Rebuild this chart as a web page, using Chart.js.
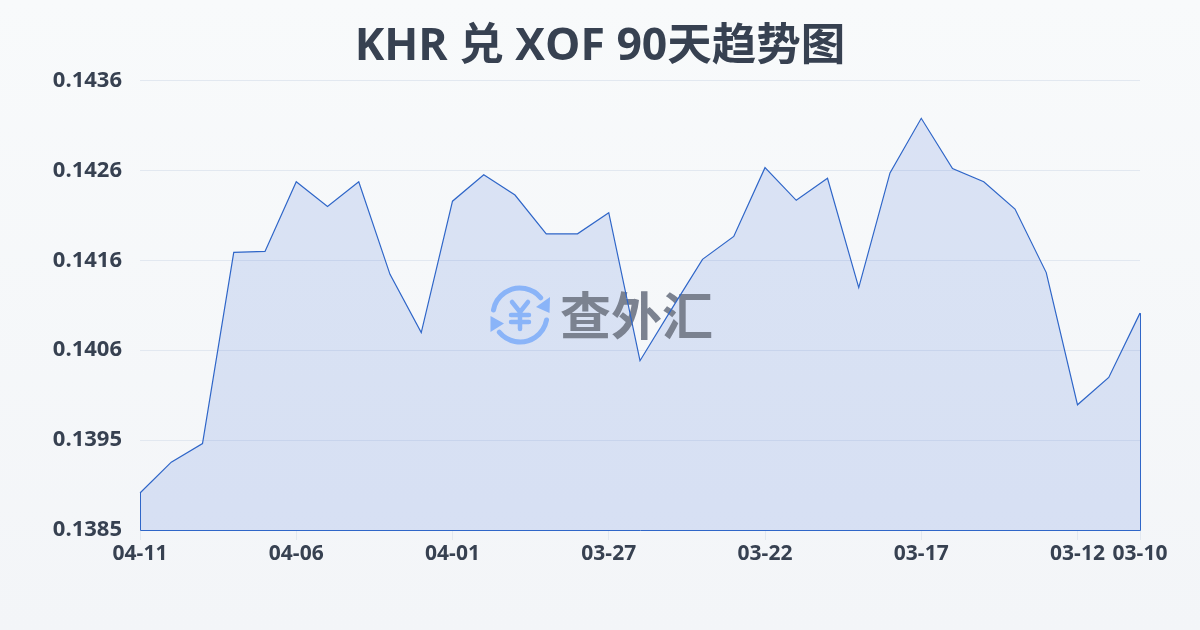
<!DOCTYPE html>
<html>
<head>
<meta charset="utf-8">
<style>
html,body{margin:0;padding:0;width:1200px;height:630px;overflow:hidden;background:linear-gradient(180deg,#f8fafb 0%,#f3f5f8 100%);}
#wrap{position:absolute;left:0;top:0;width:1200px;height:630px;}
</style>
<script src="https://cdn.jsdelivr.net/npm/chart.js@4/dist/chart.umd.js"></script>
</head>
<body>
<div id="wrap"><canvas id="c" width="1200" height="630"></canvas></div>
<script>
const chartTitle = 'KHR 兑 XOF 90天趋势图';
const watermarkText = '查外汇';
const dates = ['04-11','04-10','04-09','04-08','04-07','04-06','04-05','04-04','04-03','04-02','04-01',
  '03-31','03-30','03-29','03-28','03-27','03-26','03-25','03-24','03-23','03-22','03-21',
  '03-20','03-19','03-18','03-17','03-16','03-15','03-14','03-13','03-12','03-11','03-10'];
const rates = [0.13894,0.13929,0.13950,0.14167,0.14168,0.14247,0.14219,0.14247,0.14142,0.14076,0.14225,
  0.14255,0.14232,0.14188,0.14188,0.14212,0.14044,0.14102,0.14159,0.14185,0.14263,0.14226,
  0.14251,0.14127,0.14257,0.14319,0.14262,0.14247,0.14216,0.14144,0.13994,0.14025,0.14098];
const xTickLabels = ['04-11','04-06','04-01','03-27','03-22','03-17','03-12','03-10'];
const yMin = 0.13852, yMax = 0.14362, yTickCount = 6;

const FONT = '"Open Sans","Noto Sans CJK SC",sans-serif';
const LINE = '#2f66c8';
const TEXT = '#374151';

const watermark = {
  id:'watermark',
  beforeDatasetDraw(chart){
    const c = chart.ctx; c.save();
    c.strokeStyle = c.fillStyle = '#8ab4f8';
    c.lineCap = 'round'; c.lineJoin = 'round'; c.lineWidth = 5;
    const cx = 520, cy = 315, r = 27;
    c.beginPath(); c.arc(cx,cy,r,Math.PI*1.06,Math.PI*1.78); c.stroke();
    c.beginPath(); c.arc(cx,cy,r,Math.PI*0.06,Math.PI*0.78); c.stroke();
    c.beginPath(); c.moveTo(550,297); c.lineTo(549.5,313); c.lineTo(536,307); c.closePath(); c.fill();
    c.beginPath(); c.moveTo(490.5,316); c.lineTo(490.5,332); c.lineTo(504,323.5); c.closePath(); c.fill();
    c.lineWidth = 4.5;
    c.beginPath(); c.moveTo(512,302); c.lineTo(520,312); c.lineTo(528,302); c.stroke();
    c.beginPath(); c.moveTo(511,315); c.lineTo(529,315); c.moveTo(511,322); c.lineTo(529,322); c.moveTo(520,312); c.lineTo(520,329); c.stroke();
    c.fillStyle = '#7b8290';
    c.font = '700 51px "Noto Sans CJK SC"';
    c.textAlign = 'left'; c.textBaseline = 'middle';
    c.fillText(watermarkText, 560, 316);
    c.restore();
  }
};
const areaEdge = {
  id:'areaEdge',
  afterDatasetsDraw(chart){
    const pts = chart.getDatasetMeta(0).data;
    const base = chart.scales.y.bottom + 0.5;
    const a = pts[0], b = pts[pts.length-1];
    const c = chart.ctx; c.save();
    c.strokeStyle = LINE; c.lineWidth = 1;
    c.beginPath(); c.moveTo(a.x+0.5,a.y); c.lineTo(a.x+0.5,base); c.lineTo(b.x+0.5,base); c.lineTo(b.x+0.5,b.y); c.stroke();
    c.restore();
  }
};

new Chart(document.getElementById('c'),{
  type:'line',
  data:{labels:dates,datasets:[{
    data:rates,yAxisID:'y',borderColor:LINE,borderWidth:1.2,backgroundColor:'rgba(45,95,215,0.14)',
    fill:'start',tension:0,pointRadius:0
  }]},
  plugins:[watermark,areaEdge],
  options:{
    responsive:false,animation:false,
    layout:{padding:0},
    plugins:{
      legend:{display:false},tooltip:{enabled:false},
      title:{display:true,text:chartTitle,color:TEXT,font:{family:FONT,size:44.5,weight:'700'},padding:{top:21,bottom:6}}
    },
    scales:{
      x:{
        type:'category',
        afterBuildTicks(s){ s.ticks = s.ticks.filter(t=>xTickLabels.includes(dates[t.value])); },
        afterFit(s){ s.height = 100; },
        grid:{drawOnChartArea:false,drawTicks:true,tickLength:10,color:'#e2e8f0'},
        border:{display:false},
        ticks:{autoSkip:false,maxRotation:0,minRotation:0,color:TEXT,padding:1,font:{family:FONT,size:21,weight:'700'},
          callback(v){ return dates[v]; }}
      },
      y:{
        min:yMin,max:yMax,
        afterFit(s){ s.width = 140; },
        grid:{drawTicks:false,color:'#e2e8f0'},
        border:{display:false},
        ticks:{count:yTickCount,color:TEXT,padding:18,font:{family:FONT,size:22,weight:'700'},
          callback(v){ return v.toFixed(4); }}
      },
      rightGutter:{
        position:'right',min:yMin,max:yMax,
        afterFit(s){ s.width = 60; },
        grid:{display:false},border:{display:false},ticks:{display:false}
      }
    }
  }
});
</script>
</body>
</html>
